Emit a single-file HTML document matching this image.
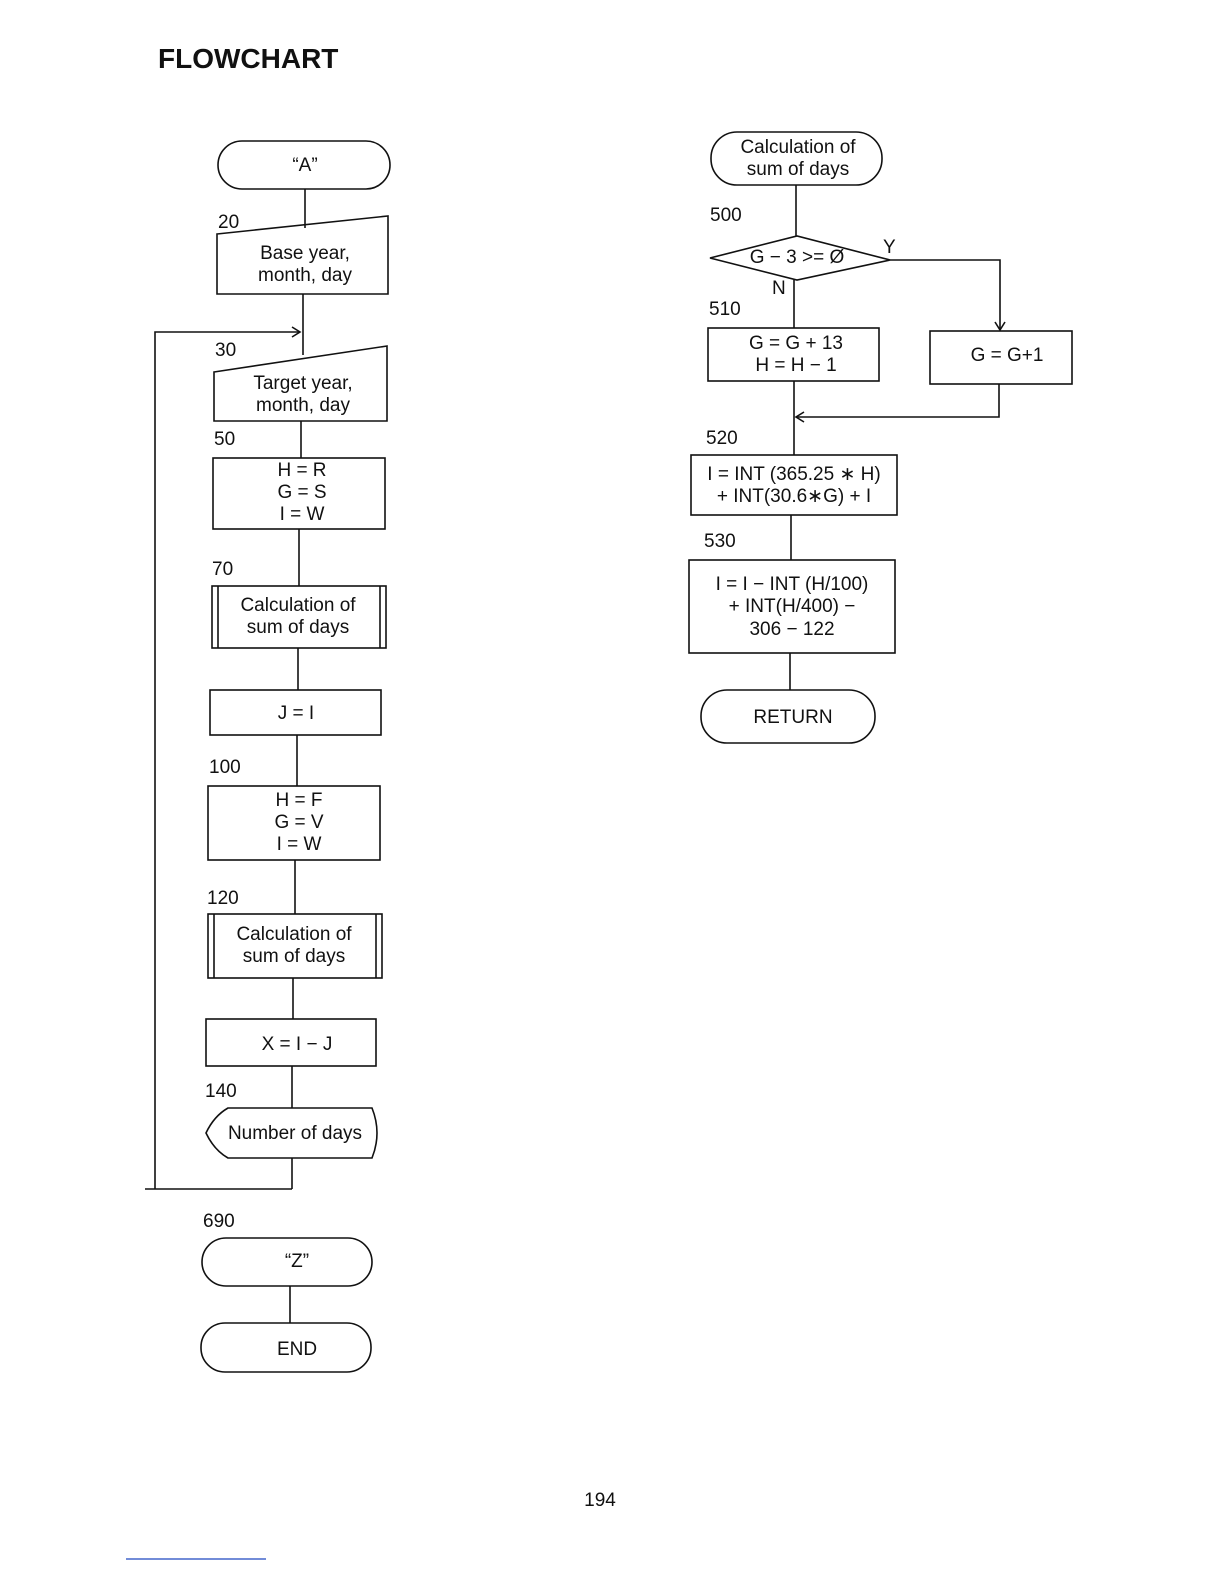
<!DOCTYPE html>
<html><head><meta charset="utf-8"><style>
html,body{margin:0;padding:0;background:#fff}
svg text{font-family:"Liberation Sans",sans-serif;fill:#111}
</style></head><body>
<svg width="1224" height="1584" viewBox="0 0 1224 1584" xmlns="http://www.w3.org/2000/svg">
<g fill="none" stroke="#111" stroke-width="1.6">
<!-- left column -->
<rect x="218" y="141" width="172" height="48" rx="24"/>
<line x1="305" y1="189" x2="305" y2="228"/>
<polygon points="217,234 388,216 388,294 217,294"/>
<line x1="303" y1="294" x2="303" y2="355"/>
<polyline points="292,1189 145,1189 155,1189 155,332 300,332"/>
<polyline points="292,327 300,332 292,337"/>
<polygon points="214,372 387,346 387,421 214,421"/>
<line x1="301" y1="421" x2="301" y2="458"/>
<rect x="213" y="458" width="172" height="71"/>
<line x1="299" y1="529" x2="299" y2="586"/>
<rect x="212" y="586" width="174" height="62"/>
<line x1="218" y1="586" x2="218" y2="648"/><line x1="380" y1="586" x2="380" y2="648"/>
<line x1="298" y1="648" x2="298" y2="690"/>
<rect x="210" y="690" width="171" height="45"/>
<line x1="297" y1="735" x2="297" y2="786"/>
<rect x="208" y="786" width="172" height="74"/>
<line x1="295" y1="860" x2="295" y2="914"/>
<rect x="208" y="914" width="174" height="64"/>
<line x1="214" y1="914" x2="214" y2="978"/><line x1="376" y1="914" x2="376" y2="978"/>
<line x1="293" y1="978" x2="293" y2="1019"/>
<rect x="206" y="1019" width="170" height="47"/>
<line x1="292" y1="1066" x2="292" y2="1108"/>
<path d="M206,1133 Q214,1116 228,1108 L372,1108 Q382,1133 372,1158 L228,1158 Q214,1150 206,1133 Z"/>
<line x1="292" y1="1158" x2="292" y2="1189"/>
<rect x="202" y="1238" width="170" height="48" rx="24"/>
<line x1="290" y1="1286" x2="290" y2="1323"/>
<rect x="201" y="1323" width="170" height="49" rx="24"/>
<!-- right column -->
<rect x="711" y="132" width="171" height="53" rx="26"/>
<line x1="796" y1="185" x2="796" y2="236"/>
<polygon points="710,258 797,236 890,260 797,280"/>
<polyline points="890,260 1000,260 1000,330"/>
<polyline points="995,322 1000,330 1005,322"/>
<line x1="794" y1="280" x2="794" y2="328"/>
<rect x="708" y="328" width="171" height="53"/>
<rect x="930" y="331" width="142" height="53"/>
<polyline points="999,384 999,417 796,417"/>
<polyline points="804,412 796,417 804,422"/>
<line x1="794" y1="381" x2="794" y2="455"/>
<rect x="691" y="455" width="206" height="60"/>
<line x1="791" y1="515" x2="791" y2="560"/>
<rect x="689" y="560" width="206" height="93"/>
<line x1="790" y1="653" x2="790" y2="690"/>
<rect x="701" y="690" width="174" height="53" rx="26"/>
</g>
<line x1="126" y1="1559" x2="266" y2="1559" stroke="#4466cc" stroke-width="1.5"/>
<text x="158" y="68" font-size="28" font-weight="bold">FLOWCHART</text>
<g font-size="19" text-anchor="middle">
<text x="305" y="171">“A”</text>
<text x="305" y="259">Base year,</text><text x="305" y="281">month, day</text>
<text x="303" y="389">Target year,</text><text x="303" y="411">month, day</text>
<text x="302" y="476">H = R</text><text x="302" y="498">G = S</text><text x="302" y="520">I  = W</text>
<text x="298" y="611">Calculation of</text><text x="298" y="633">sum of days</text>
<text x="296" y="719">J = I</text>
<text x="299" y="806">H = F</text><text x="299" y="828">G = V</text><text x="299" y="850">I  = W</text>
<text x="294" y="940">Calculation of</text><text x="294" y="962">sum of days</text>
<text x="297" y="1050">X = I − J</text>
<text x="295" y="1139">Number of days</text>
<text x="297" y="1267">“Z”</text>
<text x="297" y="1355">END</text>
<text x="798" y="153">Calculation of</text><text x="798" y="175">sum of days</text>
<text x="797" y="263">G − 3 &gt;= Ø</text>
<text x="796" y="349">G = G + 13</text><text x="796" y="371">H = H − 1</text>
<text x="1007" y="361">G = G+1</text>
<text x="794" y="480">I = INT (365.25 ∗ H)</text><text x="794" y="502">+ INT(30.6∗G) + I</text>
<text x="792" y="590">I = I − INT (H/100)</text><text x="792" y="612">+ INT(H/400) −</text><text x="792" y="635">306 − 122</text>
<text x="793" y="723">RETURN</text>
<text x="600" y="1506">194</text>
</g>
<g font-size="19">
<text x="218" y="228">20</text><text x="215" y="356">30</text><text x="214" y="445">50</text>
<text x="212" y="575">70</text><text x="209" y="773">100</text><text x="207" y="904">120</text>
<text x="205" y="1097">140</text><text x="203" y="1227">690</text>
<text x="710" y="221">500</text><text x="883" y="253">Y</text><text x="772" y="294">N</text>
<text x="709" y="315">510</text><text x="706" y="444">520</text><text x="704" y="547">530</text>
</g>
</svg>
</body></html>
